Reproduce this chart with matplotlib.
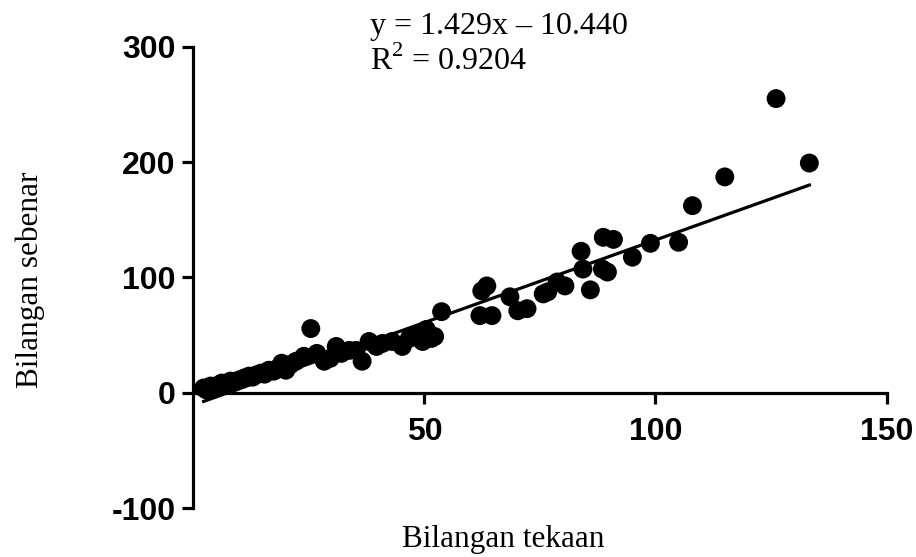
import numpy as np
import matplotlib
matplotlib.use("Agg")
import matplotlib.pyplot as plt

tekaan = [2.2, 2.8, 3.7, 4.3, 5.4, 6.1, 7.2, 8.0, 8.9, 9.8,
          10.9, 12.0, 12.8, 13.5, 14.6, 15.4, 16.3, 17.4, 18.3, 19.1,
          20.0, 21.1, 22.2, 23.9, 25.4, 26.7, 28.3, 29.6, 30.9, 32.0,
          33.7, 35.2, 36.5, 38.0, 39.6, 40.9, 43.0, 45.2, 46.7, 48.3,
          49.6, 50.4, 51.5, 52.2, 53.7, 62.0, 62.4, 63.5, 64.6, 68.5,
          70.2, 72.2, 75.7, 76.7, 78.7, 80.4, 83.9, 84.3, 85.9, 88.5,
          89.6, 88.7, 90.9, 95.0, 98.9, 105.0, 108.0, 115.0, 126.1, 133.3]
sebenar = [4.3, 2.6, 6.0, 3.4, 6.9, 8.6, 7.7, 10.3, 9.4, 11.2,
           12.9, 14.6, 13.7, 15.5, 17.2, 16.3, 19.7, 18.9, 21.5, 25.8,
           19.7, 24.9, 27.5, 31.8, 55.8, 34.3, 27.5, 30.0, 40.3, 34.3,
           36.9, 36.9, 27.5, 44.6, 40.3, 42.9, 44.6, 40.3, 47.2, 49.8,
           44.6, 55.0, 47.2, 48.9, 70.4, 67.0, 88.4, 92.7, 67.0, 83.3,
           71.2, 73.0, 85.8, 87.6, 96.1, 92.7, 122.7, 107.3, 89.3, 107.3,
           104.7, 134.8, 133.0, 117.6, 129.6, 130.5, 162.2, 187.1, 254.9, 199.1]

slope, intercept = 1.429, -10.440
r2 = 0.9204

plt.rcParams['axes.unicode_minus'] = False
plt.rcParams['mathtext.fontset'] = 'custom'
plt.rcParams['mathtext.rm'] = 'Liberation Serif'

fig = plt.figure(figsize=(9.16, 5.57), dpi=100)
ax = fig.add_axes([0.2112, 0.0871, 0.7566, 0.8294])

x = np.array(tekaan)
y = np.array(sebenar)
ax.scatter(x, y, s=185, color='black', edgecolors='none', zorder=3, clip_on=False)

xl = np.array([x.min(), x.max()])
ax.plot(xl, slope * xl + intercept, color='black', linewidth=2.3, zorder=4)

ax.set_xlim(0, 150)
ax.set_ylim(-100, 300)
ax.set_xticks([50, 100, 150])
ax.set_yticks([-100, 0, 100, 200, 300])

ax.spines['top'].set_visible(False)
ax.spines['right'].set_visible(False)
ax.spines['bottom'].set_position(('data', 0))
for s in ('left', 'bottom'):
    ax.spines[s].set_linewidth(2.3)

ax.tick_params(axis='both', direction='out', length=8, width=2.3,
               labelsize=23)
ax.tick_params(axis='x', pad=9)
ax.tick_params(axis='y', pad=5)
for lab in ax.get_xticklabels() + ax.get_yticklabels():
    lab.set_fontweight('bold')
    lab.set_fontfamily('Liberation Sans')

fig.text(0.404, 0.952, f"y = {slope:.3f}x \u2013 {abs(intercept):.3f}",
         family='Liberation Serif', fontsize=23, va='center', ha='left')
fig.text(0.404, 0.889, f"R$^2$ = {r2:.4f}",
         family='Liberation Serif', fontsize=23, va='center', ha='left')

fig.text(0.549, 0.031, "Bilangan tekaan", family='Liberation Serif',
         fontsize=22.5, ha='center', va='center')
fig.text(0.033, 0.497, "Bilangan sebenar", family='Liberation Serif',
         fontsize=22.5, ha='center', va='center', rotation=90)

fig.savefig("out.png", dpi=100)
